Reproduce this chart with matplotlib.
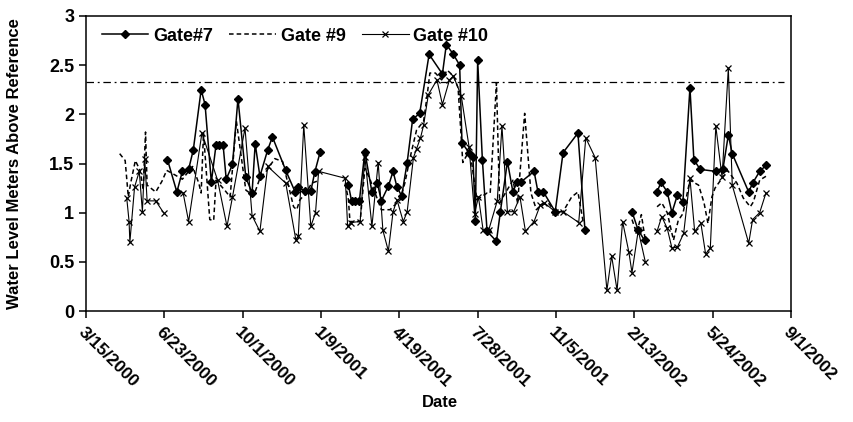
import matplotlib
matplotlib.use('Agg')
import matplotlib.pyplot as plt
import numpy as np
import pandas as pd

plt.rcParams['font.family'] = ['Liberation Sans', 'DejaVu Sans']
plt.rcParams['font.weight'] = 'bold'

# Dates are stored as days after 3/15/2000, None = no reading (line break)
START = pd.Timestamp('2000-03-15')

gate7_day = [104, 116, 123, 131, 137, 147, 152, 160, 166, 170,
             175, 179, 187, 194, 204, 212, 216, 222, 232, 238,
             255, 267, 271, 279, 287, 292, 299, 315,
             335, 339, 344, 349, 356, 365, 372, 377, 386, 392,
             397, 403, 410, 417, 426, 438, 455, 460, 469, 477,
             480, 489, 494, 497, 500, 506, 512, 524, 529, 538,
             545, 550, 555, 572, 577, 584, 599, 609, 628, 637, 660,
             697, 705, 713, 720,
             729, 734, 742, 748, 755, 762, 771, 776, 784, 804,
             813, 820, 825, 846, 851, 860, 868]
gate7_val = [1.54, 1.21, 1.42, 1.44, 1.64, 2.25, 2.10, 1.31, 1.69, 1.69,
             1.69, 1.34, 1.49, 2.16, 1.36, 1.20, 1.70, 1.37, 1.64, 1.77,
             1.43, 1.21, 1.26, 1.22, 1.22, 1.41, 1.62, None,
             1.28, 1.12, 1.12, 1.12, 1.62, 1.21, 1.30, 1.12, 1.27, 1.42,
             1.26, 1.17, 1.51, 1.95, 2.01, 2.61, 2.41, 2.71, 2.61, 2.50,
             1.71, 1.61, 1.57, 0.92, 2.55, 1.54, 0.81, 0.71, 1.01, 1.52,
             1.21, 1.31, 1.31, 1.42, 1.21, 1.21, 1.01, 1.61, 1.81, 0.82, None,
             1.01, 0.82, 0.72, None,
             1.21, 1.31, 1.21, 1.00, 1.18, 1.11, 2.27, 1.54, 1.44, 1.42,
             1.44, 1.79, 1.60, 1.21, 1.30, 1.42, 1.48]

gate9_day = [43, 50, 54, 57, 63, 69, 73, 76, 78, 89,
             97, 103, 110, 123, 136, 144, 147, 150, 158, 163,
             166, 177, 184, 192, 204, 214, 222, 231, 241, 251,
             265, 269, 273, 281, 288, 295, 312,
             331, 335, 337, 350, 356, 363, 377, 388, 401, 407,
             414, 422, 431, 435, 439, 446, 454, 461, 469, 475,
             481, 490, 499, 512, 516, 524, 528, 545, 551, 560,
             568, 575, 582, 590, 599, 609, 620, 628, 635, 660,
             697, 703, 709, 714, 720,
             729, 735, 742, 750, 756, 762, 771, 782, 789, 794,
             799, 803, 812, 819, 831, 839, 848, 852, 860, 868]
gate9_val = [1.60, 1.53, 1.16, 1.30, 1.53, 1.43, 1.23, 1.82, 1.28, 1.21,
             1.32, 1.43, 1.40, 1.34, 1.47, 1.30, 1.20, 1.81, 0.93, 0.92,
             1.33, 1.23, 1.16, 1.93, 1.23, 1.17, 1.35, 1.43, 1.55, 1.52,
             1.06, 1.03, 1.13, 1.20, 1.30, 1.32, None,
             1.30, 1.13, 0.91, 0.91, 1.45, 1.33, 1.03, 1.03, 1.13, 1.30,
             1.57, 1.84, 1.93, 2.16, 2.42, 2.42, 2.35, 2.45, 2.39, 2.27,
             1.51, 1.64, 1.13, 1.20, 1.20, 2.32, 1.10, 1.33, 1.10, 2.01,
             1.20, 1.03, 1.08, 1.10, 1.01, 1.01, 1.16, 1.21, 0.89, None,
             0.93, 0.79, 0.98, 0.72, None,
             1.06, 1.10, 1.00, 0.72, 0.92, 0.99, 1.33, 1.28, 1.10, 0.89,
             1.16, 1.25, 1.35, 1.43, 1.30, 1.15, 1.06, 1.11, 1.33, 1.37]

gate10_day = [52, 55, 56, 62, 68, 72, 75, 78, 89, 99, 110,
              124, 131, 148, 168, 180, 187, 203, 212, 222, 232,
              255, 268, 271, 278, 287, 293, 297, 331, 334, 338,
              350, 356, 365, 373, 379, 386, 392, 397, 405, 410,
              418, 422, 427, 431, 437, 448, 455, 464, 469, 479,
              489, 496, 501, 507, 514, 525, 531, 538, 546, 554,
              561, 572, 580, 585, 599, 609, 629, 638, 650, 665,
              671, 678, 685, 693, 697, 705, 714, 720,
              729, 735, 742, 748, 755, 763, 771, 777, 785, 791,
              797, 804, 812, 820, 825, 846, 851, 860, 868]
gate10_val = [1.15, 0.91, 0.70, 1.26, 1.42, 1.01, 1.55, 1.12, 1.12, 1.00, None,
              1.20, 0.91, 1.81, 1.33, 0.86, 1.16, 1.86, 0.97, 0.81, 1.47,
              1.30, 0.72, 0.76, 1.89, 0.86, 1.00, 1.42, 1.35, 0.86, 0.90,
              0.91, 1.57, 0.86, 1.51, 0.82, 0.61, 1.01, 1.13, 0.91, 1.01,
              1.56, 1.65, 1.76, 1.89, 2.20, 2.35, 2.10, 2.35, 2.39, 2.19,
              1.67, 0.99, 1.16, 0.82, 0.82, 1.12, 1.88, 1.01, 1.01, 1.16,
              0.81, 0.91, 1.08, 1.10, 1.01, 1.01, 0.90, 1.76, 1.56, 0.21,
              0.56, 0.21, 0.91, 0.60, 0.39, 0.82, 0.50, None,
              0.81, 0.96, 0.84, 0.64, 0.65, 0.79, 1.35, 0.81, 0.89, 0.58,
              0.64, 1.88, 1.36, 2.47, 1.28, 0.69, 0.93, 1.00, 1.20]

REF_LEVEL = 2.33
tick_step_days = 100
n_ticks = 10


def to_dates(days):
    return START + pd.to_timedelta(np.array(days, dtype=float), unit='D')


fig = plt.figure(figsize=(8.54, 4.22), dpi=100)
ax = fig.add_axes([86 / 854, 1 - 311 / 422, 705 / 854, 295 / 422])

ax.plot(to_dates(gate7_day), np.array(gate7_val, dtype=float), color='black',
        lw=1.1, marker='D', ms=4, mfc='black', mec='black', label='Gate#7')
ax.plot(to_dates(gate9_day), np.array(gate9_val, dtype=float), color='black',
        lw=1.1, ls=(0, (3, 2)), label='Gate #9')
ax.plot(to_dates(gate10_day), np.array(gate10_val, dtype=float), color='black',
        lw=0.8, marker='x', ms=4.5, mew=0.9, label='Gate #10')

ax.axhline(REF_LEVEL, xmin=0, xmax=0.99, color='black', lw=0.9,
           ls=(0, (6, 3, 1.5, 3)))

# axes
tick_dates = [START + pd.Timedelta(days=tick_step_days * k) for k in range(n_ticks)]
ax.set_xlim(tick_dates[0], tick_dates[-1])
ax.set_xticks(tick_dates)
ax.set_xticklabels(['{}/{}/{}'.format(d.month, d.day, d.year) for d in tick_dates],
                   rotation=-45, ha='left', va='top', rotation_mode='anchor',
                   fontsize=12.5, fontweight='bold')
ax.set_ylim(0, 3)
ax.set_yticks(np.arange(0, 3.01, 0.5))
ax.set_yticklabels(['{:g}'.format(v) for v in np.arange(0, 3.01, 0.5)],
                   fontsize=13, fontweight='bold')
ax.tick_params(direction='out', length=5, width=1.1, color='black')
ax.tick_params(axis='x', pad=5)
for s in ax.spines.values():
    s.set_linewidth(1.1)
    s.set_color('black')

ax.set_ylabel('Water Level Meters Above Reference', fontsize=12, fontweight='bold')
ax.yaxis.set_label_coords(-0.091, 0.5)
ax.set_xlabel('Date', fontsize=12, fontweight='bold')
ax.xaxis.set_label_coords(0.502, -0.285)

leg = ax.legend(loc='upper left', bbox_to_anchor=(0.022, 0.96), ncol=3,
                frameon=False, handlelength=2.6, handletextpad=0.25,
                columnspacing=0.9, borderaxespad=0, borderpad=0,
                prop={'size': 13, 'weight': 'bold'})

fig.savefig('out.png', dpi=100)
